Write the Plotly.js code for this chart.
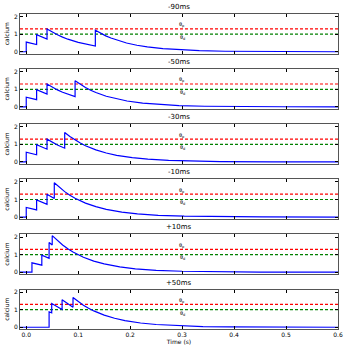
<!DOCTYPE html>
<html>
<head>
<meta charset="utf-8">
<script src="https://cdn.plot.ly/plotly-3.0.1.min.js"></script>
<style>
  html, body { margin: 0; padding: 0; background: #fff; }
  #plot { width: 350px; height: 350px; }
</style>
</head>
<body>
<div id="plot"></div>
<script>
/* Panel titles (timing of post spike relative to pre) */
const titles = ['-90ms', '-50ms', '-30ms', '-10ms', '+10ms', '+50ms'];

/* Thresholds */
const theta_p = 1.3;
const theta_d = 1.0;

/* Calcium traces, one pair of arrays per panel */
const t_m90  = [-0.012, 0, 0, 0.01, 0.02, 0.02, 0.03, 0.04, 0.04, 0.05, 0.06, 0.07, 0.08, 0.10, 0.12, 0.133, 0.133, 0.143, 0.153, 0.163, 0.173, 0.193, 0.213, 0.233, 0.263, 0.293, 0.333, 0.383, 0.433, 0.533, 0.6];
const ca_m90 = [0, 0, 0.55, 0.474, 0.408, 0.978, 0.842, 0.726, 1.30, 1.119, 0.965, 0.831, 0.715, 0.530, 0.394, 0.325, 1.22, 1.050, 0.905, 0.780, 0.671, 0.498, 0.370, 0.275, 0.176, 0.112, 0.062, 0.029, 0.014, 0.003, 0.001];

const t_m50  = [-0.012, 0, 0, 0.01, 0.02, 0.02, 0.03, 0.04, 0.04, 0.05, 0.06, 0.07, 0.08, 0.094, 0.094, 0.104, 0.114, 0.124, 0.134, 0.154, 0.174, 0.194, 0.224, 0.254, 0.294, 0.344, 0.394, 0.494, 0.6];
const ca_m50 = [0, 0, 0.55, 0.474, 0.408, 0.978, 0.842, 0.726, 1.30, 1.119, 0.965, 0.831, 0.715, 0.58, 1.48, 1.274, 1.098, 0.946, 0.814, 0.604, 0.448, 0.333, 0.213, 0.136, 0.075, 0.035, 0.017, 0.004, 0.001];

const t_m30  = [-0.012, 0, 0, 0.01, 0.02, 0.02, 0.03, 0.04, 0.04, 0.05, 0.06, 0.074, 0.074, 0.084, 0.094, 0.104, 0.114, 0.134, 0.154, 0.174, 0.204, 0.234, 0.274, 0.324, 0.374, 0.474, 0.6];
const ca_m30 = [0, 0, 0.55, 0.474, 0.408, 0.978, 0.842, 0.726, 1.30, 1.119, 0.965, 0.783, 1.68, 1.447, 1.247, 1.074, 0.924, 0.686, 0.509, 0.378, 0.242, 0.155, 0.085, 0.040, 0.019, 0.004, 0.001];

const t_m10  = [-0.012, 0, 0, 0.01, 0.02, 0.02, 0.03, 0.04, 0.04, 0.047, 0.054, 0.054, 0.064, 0.074, 0.084, 0.094, 0.114, 0.134, 0.154, 0.184, 0.214, 0.254, 0.304, 0.354, 0.454, 0.6];
const ca_m10 = [0, 0, 0.55, 0.474, 0.408, 0.978, 0.842, 0.726, 1.30, 1.17, 1.054, 1.95, 1.679, 1.447, 1.246, 1.073, 0.796, 0.591, 0.439, 0.281, 0.179, 0.098, 0.047, 0.022, 0.005, 0.001];

const t_p10  = [-0.012, 0.011, 0.011, 0.02, 0.03, 0.03, 0.037, 0.044, 0.044, 0.05, 0.05, 0.06, 0.07, 0.08, 0.09, 0.11, 0.13, 0.15, 0.18, 0.21, 0.25, 0.30, 0.35, 0.45, 0.6];
const ca_p10 = [0, 0, 0.53, 0.463, 0.399, 0.97, 0.874, 0.787, 1.69, 1.545, 2.08, 1.791, 1.543, 1.329, 1.144, 0.849, 0.630, 0.468, 0.300, 0.191, 0.105, 0.050, 0.024, 0.005, 0.001];

const t_p50  = [-0.012, 0.044, 0.044, 0.049, 0.049, 0.059, 0.069, 0.069, 0.079, 0.09, 0.09, 0.10, 0.11, 0.12, 0.13, 0.15, 0.17, 0.19, 0.22, 0.25, 0.29, 0.34, 0.39, 0.49, 0.6];
const ca_p50 = [0, 0, 0.88, 0.817, 1.35, 1.16, 1.01, 1.56, 1.34, 1.14, 1.69, 1.455, 1.254, 1.080, 0.930, 0.690, 0.512, 0.380, 0.243, 0.155, 0.085, 0.040, 0.019, 0.004, 0.001];

const times = [t_m90, t_m50, t_m30, t_m10, t_p10, t_p50];
const calcium = [ca_m90, ca_m50, ca_m30, ca_m10, ca_p10, ca_p50];

const xRange = [-0.012, 0.6];
const W = 350, H = 350;
const left = 20, right = 338;
const firstTop = 14, step = 55.1, panelH = 39.5;

let data = [];
let layout = {
    width: W, height: H,
    margin: {l: 0, r: 0, t: 0, b: 0},
    paper_bgcolor: '#fff',
    plot_bgcolor: '#fff',
    showlegend: false,
    font: {family: 'DejaVu Sans', size: 6, color: '#000'},
    annotations: []
};

for (let i = 0; i < 6; i++) {
    let n = i + 1;
    let xa = n === 1 ? 'x' : 'x' + n;
    let ya = n === 1 ? 'y' : 'y' + n;
    let top = firstTop + step * i;
    let bottom = top + panelH;

    // thresholds
    data.push({
        type: 'scatter', mode: 'lines', xaxis: xa, yaxis: ya,
        x: xRange, y: [theta_p, theta_p],
        line: {color: '#ff0000', width: 1.2, dash: '3px,2px'}
    });
    data.push({
        type: 'scatter', mode: 'lines', xaxis: xa, yaxis: ya,
        x: xRange, y: [theta_d, theta_d],
        line: {color: '#008000', width: 1.2, dash: '3px,2px'}
    });
    // calcium
    data.push({
        type: 'scatter', mode: 'lines', xaxis: xa, yaxis: ya,
        x: times[i], y: calcium[i],
        line: {color: '#0000ff', width: 1.2}
    });

    let xax = {
        domain: [left / W, right / W],
        anchor: ya,
        range: xRange,
        tickvals: [0, 0.1, 0.2, 0.3, 0.4, 0.5, 0.6],
        ticktext: ['0.0', '0.1', '0.2', '0.3', '0.4', '0.5', '0.6'],
        showticklabels: i === 5,
        ticks: 'inside', ticklen: 3, tickwidth: 0.6, tickcolor: '#000',
        mirror: 'ticks', showline: true, linecolor: '#555', linewidth: 1,
        showgrid: false, zeroline: false,
        tickfont: {size: 6}
    };
    if (i === 5) xax.title = {text: 'Time (s)', font: {size: 6}, standoff: 2};
    layout['xaxis' + (n === 1 ? '' : n)] = xax;

    layout['yaxis' + (n === 1 ? '' : n)] = {
        domain: [1 - bottom / H, 1 - top / H],
        anchor: xa,
        range: [-0.1, 2.15],
        tickvals: [0, 1, 2],
        ticks: 'inside', ticklen: 3, tickwidth: 0.6, tickcolor: '#000',
        mirror: 'ticks', showline: true, linecolor: '#555', linewidth: 1,
        showgrid: false, zeroline: false,
        tickfont: {size: 6},
        title: {text: 'calcium', font: {size: 6}, standoff: 3}
    };

    layout.annotations.push({
        text: titles[i], xref: 'paper', yref: 'paper',
        x: (left + right) / 2 / W, y: 1 - (top - 1) / H,
        xanchor: 'center', yanchor: 'bottom', showarrow: false,
        font: {size: 7}
    });
    layout.annotations.push({
        text: '\u03b8<sub>p</sub>', xref: xa, yref: ya,
        x: 0.3, y: theta_p - 0.08, xanchor: 'center', yanchor: 'bottom', showarrow: false,
        font: {size: 5}
    });
    layout.annotations.push({
        text: '\u03b8<sub>d</sub>', xref: xa, yref: ya,
        x: 0.3, y: theta_d + 0.12, xanchor: 'center', yanchor: 'top', showarrow: false,
        font: {size: 5}
    });
}

Plotly.newPlot('plot', data, layout, {displayModeBar: false});
</script>
</body>
</html>
